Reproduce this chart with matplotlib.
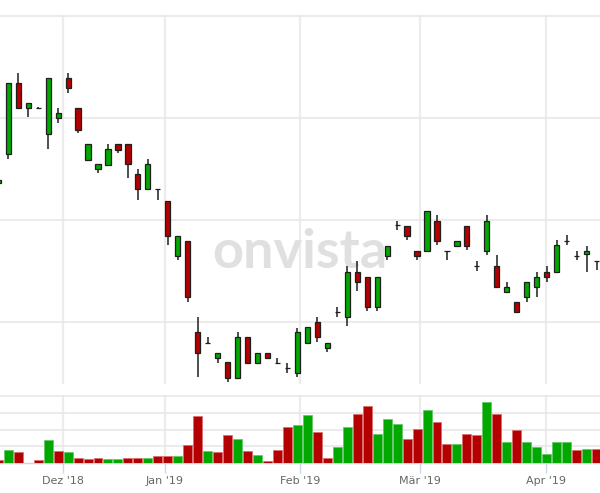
import matplotlib
matplotlib.use("Agg")
import matplotlib.pyplot as plt
import numpy as np

# --- Data (index -1 is the candle cut at the left edge) ---
opens = [15.85, 17.29, 20.85, 19.59, 19.59, 18.29, 19.09, 21.09, 19.59, 17.02,
         16.54, 16.77, 17.79, 17.79, 16.30, 15.54, 15.54, 14.97, 12.20, 12.97,
         8.42, 7.87, 7.09, 6.89, 6.09, 8.17, 6.84, 7.37, 6.87, 6.59,
         6.34, 7.84, 8.89, 7.59, 9.39, 9.14, 11.42, 11.14, 9.64, 12.22,
         13.75, 13.72, 12.47, 12.47, 13.97, 12.47, 12.72, 13.72, 11.72, 12.47,
         11.72, 10.39, 9.92, 10.14, 10.64, 11.42, 11.39, 12.97, 12.22, 12.29,
         11.97]
closes = [16.00, 20.85, 19.59, 19.84, 19.59, 21.09, 19.37, 20.59, 18.50, 17.79,
          16.79, 17.54, 17.52, 16.78, 15.54, 16.80, 15.54, 13.20, 13.22, 10.14,
          7.34, 7.87, 7.37, 6.09, 8.17, 6.84, 7.37, 7.09, 6.87, 6.59,
          8.42, 8.67, 8.14, 7.84, 9.39, 11.42, 10.92, 9.64, 11.14, 12.72,
          13.75, 13.22, 12.22, 14.47, 12.97, 12.47, 12.97, 12.72, 11.72, 13.97,
          10.64, 10.67, 9.39, 10.92, 11.17, 11.14, 12.75, 12.97, 12.22, 12.47,
          11.97]
highs = [16.10, 20.85, 21.37, 19.84, 19.63, 21.09, 19.62, 21.37, 19.59, 17.79,
         16.79, 17.80, 17.79, 17.79, 16.55, 17.04, 15.54, 14.97, 13.22, 12.97,
         9.17, 8.17, 7.37, 6.89, 8.42, 8.17, 7.37, 7.37, 7.12, 6.84,
         8.59, 8.67, 9.17, 7.84, 9.67, 11.72, 11.97, 11.14, 11.14, 12.72,
         13.97, 13.72, 12.47, 14.47, 14.25, 12.47, 12.97, 13.72, 11.97, 14.25,
         12.25, 10.92, 9.92, 10.92, 11.42, 11.72, 13.00, 13.25, 12.47, 12.72,
         11.97]
lows = [15.75, 17.05, 19.59, 19.14, 19.58, 17.57, 18.87, 20.37, 18.34, 17.02,
        16.35, 16.77, 17.34, 16.09, 15.00, 15.54, 15.00, 12.75, 12.00, 9.92,
        6.14, 7.87, 6.87, 5.89, 6.09, 6.84, 6.84, 7.09, 6.87, 6.37,
        6.14, 7.84, 7.89, 7.39, 9.14, 8.70, 10.47, 9.45, 9.45, 12.00,
        13.50, 13.00, 12.00, 12.47, 12.75, 12.00, 12.72, 12.50, 11.45, 12.25,
        10.64, 10.39, 9.39, 9.92, 10.17, 10.92, 11.39, 12.75, 12.00, 11.42,
        11.50]

volumes = [0.18, 0.78, 0.64, 0.0, 0.18, 1.37, 0.72, 0.64, 0.32, 0.24,
           0.32, 0.24, 0.24, 0.32, 0.32, 0.32, 0.44, 0.44, 0.44, 1.07,
           2.81, 0.72, 0.64, 1.67, 1.43, 0.72, 0.48, 0.12, 0.78, 2.17,
           2.27, 2.87, 1.87, 0.32, 0.97, 2.17, 2.93, 3.40, 1.73, 2.63,
           2.33, 1.43, 2.03, 3.16, 2.43, 1.13, 1.13, 1.73, 1.67, 3.66,
           2.93, 1.27, 1.97, 1.27, 0.97, 0.54, 1.27, 1.27, 0.78, 0.84,
           0.84]
# 1 = green (up vs. previous close), 0 = red
vol_up = [0, 1, 0, 0, 0, 1, 0, 1, 0, 0,
          0, 1, 1, 0, 0, 1, 0, 0, 1, 0,
          0, 1, 0, 0, 1, 0, 1, 0, 0, 0,
          1, 1, 0, 0, 1, 1, 0, 0, 1, 1,
          1, 0, 0, 1, 0, 0, 1, 0, 0, 1,
          0, 1, 0, 1, 1, 1, 1, 1, 0, 1,
          0]

month_pos = [5.5, 15.7, 29.25, 41.3, 53.95]
month_labels = ["Dez '18", "Jan '19", "Feb '19", "M\u00e4r '19", "Apr '19"]

GREEN = '#00a800'
RED = '#b40000'
GRID = '#e6e6e6'
AXIS = '#ccd6eb'

x = np.arange(len(opens)) - 1
o = np.array(opens)
c = np.array(closes)

fig = plt.figure(figsize=(6, 4.93), dpi=100)
ax = fig.add_axes([0, 109 / 493, 1, 369 / 493])
axv = fig.add_axes([0, 30 / 493, 1, 68 / 493])

# --- Price panel ---
body_col = [GREEN if cc > oo else RED for oo, cc in zip(o, c)]
ax.vlines(x, lows, highs, color='#1e1e1e', linewidth=1.1, zorder=3)
ax.bar(x, np.abs(c - o), width=0.52, bottom=np.minimum(o, c), color=body_col,
       edgecolor='#1e1e1e', linewidth=0.9, zorder=4)

ax.text(0.5, 0.315, 'onvista', transform=ax.transAxes, ha='center', va='baseline',
        fontsize=39, fontweight='bold', family='Lato', color='#e0e0e0', zorder=1)

ax.set_xlim(-0.83, 59.35)
ax.set_ylim(5.8, 24.25)
ax.set_yticks([8.9, 14.0, 19.1, 24.2])
ax.set_xticks(month_pos)
ax.tick_params(length=0, labelbottom=False, labelleft=False)
ax.grid(axis='y', color=GRID, linewidth=1.1, zorder=0)
ax.grid(axis='x', color='#ececec', linewidth=1.6, zorder=0)
ax.set_axisbelow(True)
for s in ax.spines.values():
    s.set_visible(False)

# --- Volume panel ---
vcol = [GREEN if u else RED for u in vol_up]
vedge = ['#66c866' if u else '#d87070' for u in vol_up]
axv.bar(x, volumes, width=0.9, color=vcol, edgecolor=vedge, linewidth=0.6, zorder=3)
axv.set_xlim(-0.83, 59.35)
axv.set_ylim(0, 4.06)
axv.set_yticks([1, 2, 3, 4])
axv.set_xticks(month_pos)
axv.set_xticklabels(month_labels)
axv.tick_params(axis='y', length=0, labelleft=False)
axv.tick_params(axis='x', length=7.5, width=1, color=AXIS, pad=2,
                labelsize=8, labelcolor='#666666')
axv.grid(axis='y', color=GRID, linewidth=1.1, zorder=0)
axv.grid(axis='x', color='#ececec', linewidth=1.6, zorder=0)
axv.set_axisbelow(True)
for s in ['top', 'left', 'right']:
    axv.spines[s].set_visible(False)
axv.spines['bottom'].set_color(AXIS)
axv.spines['bottom'].set_linewidth(1)

plt.savefig('out.png', dpi=100, facecolor='white')
